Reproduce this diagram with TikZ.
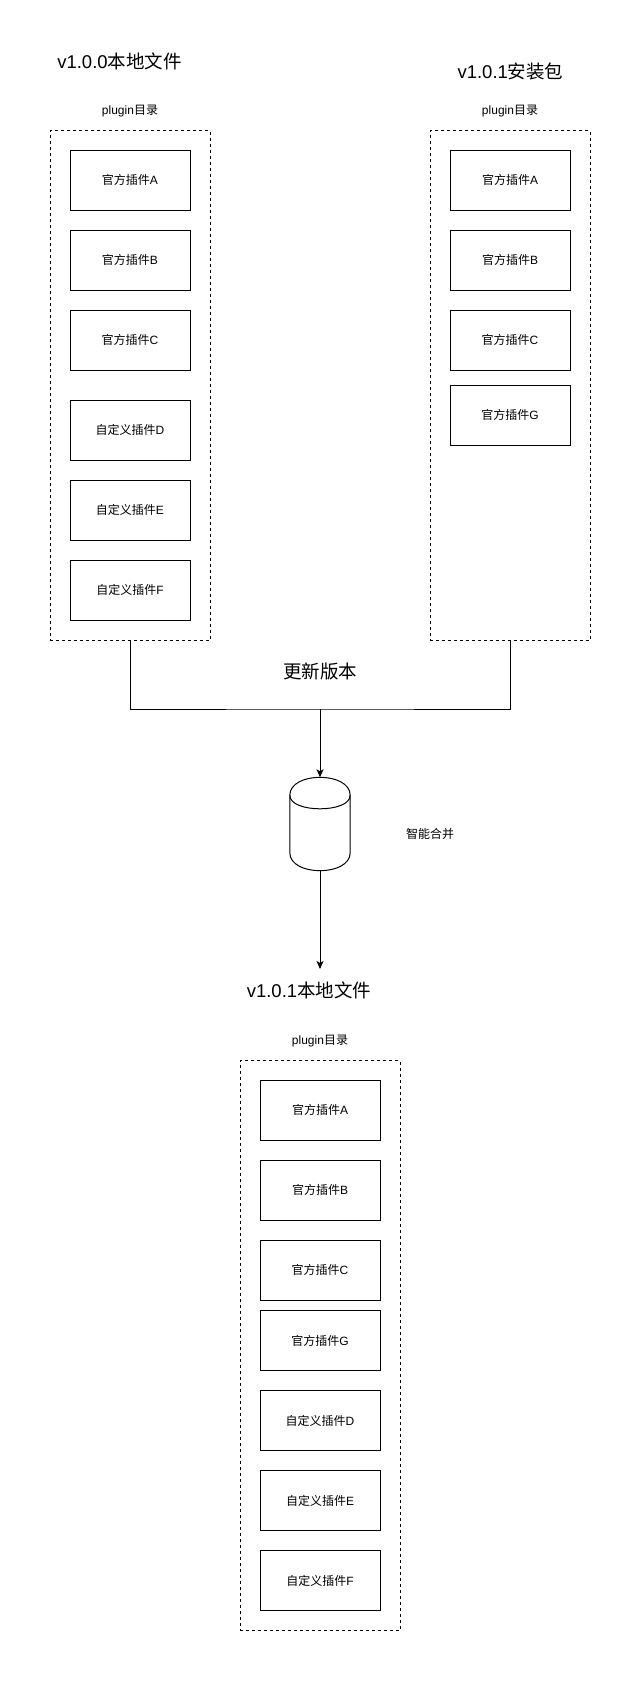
\documentclass[tikz,border=0pt]{standalone}
\usepackage{fontspec}
\setmainfont{Liberation Sans}
\newfontfamily\cjk{Noto Sans CJK SC}
\usetikzlibrary{arrows.meta,calc}
\tikzset{
  plug/.style={draw, line width=1pt, minimum width=120pt, minimum height=60pt, inner sep=0pt, font=\fontsize{12pt}{14pt}\selectfont},
  dirbox/.style={draw, line width=1pt, dash pattern=on 3pt off 3pt, minimum width=160pt, inner sep=0pt},
  small/.style={font=\fontsize{12pt}{14pt}\selectfont, inner sep=0pt},
  big/.style={font=\fontsize{18.5pt}{22pt}\selectfont, inner sep=0pt},
  conn/.style={line width=1pt},
  arr/.style={line width=1pt, -{Stealth[length=8pt,width=7pt,inset=2pt]}}
}
\begin{document}
\begin{tikzpicture}[x=1pt,y=-1pt]
\useasboundingbox[fill=white] (0,0) rectangle (641,1681);
% titles
\node[big] (t1) at (119.5,61.5) {v1.0.0{\cjk 本地文件}};
\node[big] (t2) at (510.5,71.5) {v1.0.1{\cjk 安装包}};
\node[big] (t3) at (309,990.5) {v1.0.1{\cjk 本地文件}};
\node[big] (upd) at (320,671) {\cjk 更新版本};
\node[small] (merge) at (430,834) {\cjk 智能合并};
% plugin labels
\node[small] (pl) at (130,111) {plugin{\cjk 目录}};
\node[small] (pr) at (510,111) {plugin{\cjk 目录}};
\node[small] (pb) at (320,1041) {plugin{\cjk 目录}};
% containers
\node[dirbox, minimum height=510pt] (lc) at (130,385.5) {};
\node[dirbox, minimum height=510pt] (rc) at (510,385.5) {};
\node[dirbox, minimum height=570pt] (bc) at (320,1345.5) {};
% left boxes
\node[plug] (la) at (130,180) {{\cjk 官方插件}A};
\node[plug] (lb) at (130,260) {{\cjk 官方插件}B};
\node[plug] (lcc) at (130,340) {{\cjk 官方插件}C};
\node[plug] (ld) at (130,430) {{\cjk 自定义插件}D};
\node[plug] (le) at (130,510) {{\cjk 自定义插件}E};
\node[plug] (lf) at (130,590) {{\cjk 自定义插件}F};
% right boxes
\node[plug] (ra) at (510,180) {{\cjk 官方插件}A};
\node[plug] (rb) at (510,260) {{\cjk 官方插件}B};
\node[plug] (rcc) at (510,340) {{\cjk 官方插件}C};
\node[plug] (rg) at (510,415) {{\cjk 官方插件}G};
% bottom boxes
\node[plug] (ba) at (320,1110) {{\cjk 官方插件}A};
\node[plug] (bb) at (320,1190) {{\cjk 官方插件}B};
\node[plug] (bcc) at (320,1270) {{\cjk 官方插件}C};
\node[plug] (bg) at (320,1340.5) {{\cjk 官方插件}G};
\node[plug] (bd) at (320,1420.5) {{\cjk 自定义插件}D};
\node[plug] (be) at (320,1500.5) {{\cjk 自定义插件}E};
\node[plug] (bf) at (320,1580.5) {{\cjk 自定义插件}F};
% cylinder
\node[minimum width=60pt, minimum height=93pt, inner sep=0pt] (cyl) at (320,824) {};
\draw[line width=1pt]
  ($(cyl.north west)+(0,18)$) .. controls ++(0,-24) and ++(0,-24) .. ($(cyl.north east)+(0,18)$)
  -- ($(cyl.south east)+(0,-18)$) .. controls ++(0,24) and ++(0,24) .. ($(cyl.south west)+(0,-18)$)
  -- cycle;
\draw[line width=1pt]
  ($(cyl.north west)+(0,18)$) .. controls ++(0,18) and ++(0,18) .. ($(cyl.north east)+(0,18)$);
% connectors
\coordinate (m) at (320,709);
\coordinate (e) at (320,969);
\draw[conn] (lc.south) |- (m) -| (rc.south);
\draw[arr] (m) -- (cyl.north);
\draw[arr] (cyl.south) -- (e);
\end{tikzpicture}
\end{document}
